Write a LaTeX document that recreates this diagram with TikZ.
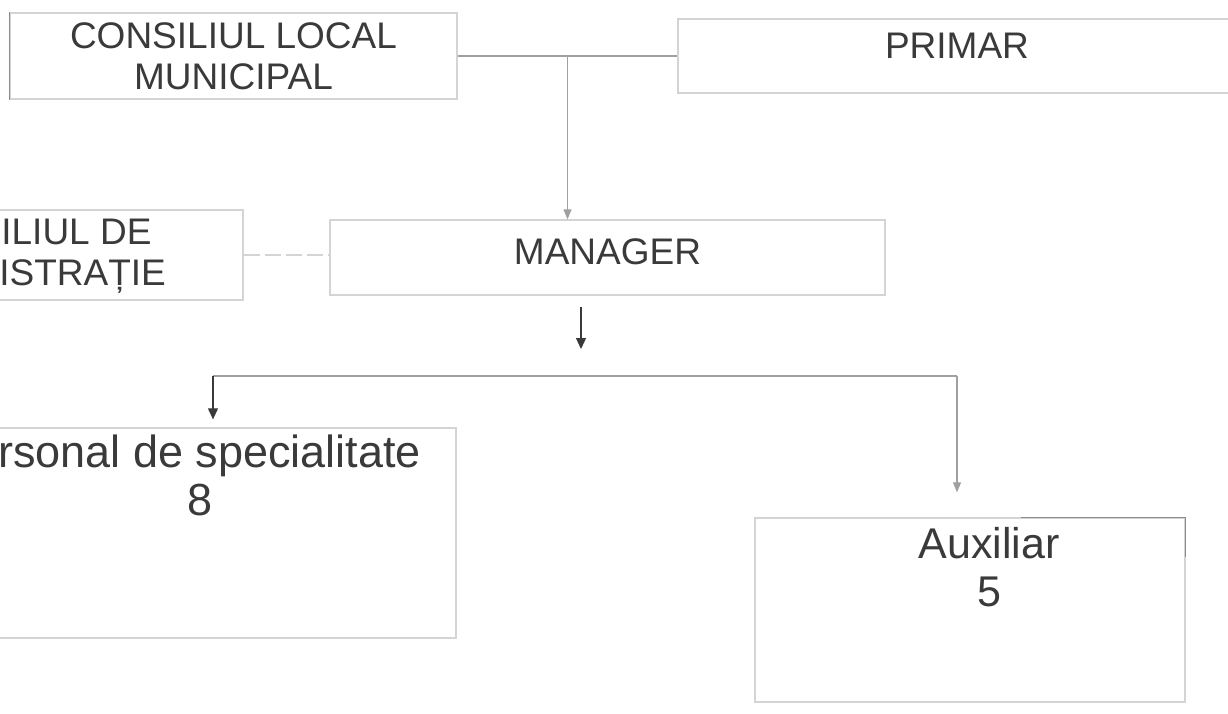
\documentclass[tikz,border=0pt]{standalone}
\usepackage{fontspec}
\usepackage{tikz}
\usetikzlibrary{calc}
\usetikzlibrary{positioning}
\usetikzlibrary{arrows.meta}
\setmainfont{Liberation Sans}
\definecolor{ink}{HTML}{3A3A3A}
\definecolor{frame}{HTML}{D4D4D4}
\definecolor{wire}{HTML}{A0A0A0}
\definecolor{edge}{HTML}{8C8C8C}

\begin{document}
\begin{tikzpicture}[x=1pt, y=-1pt,
  box/.style={draw=frame, line width=1.3pt, inner sep=0pt},
  caps/.style={font=\fontsize{37}{41}\selectfont, text=ink, align=center, inner sep=0pt},
  words/.style={font=\fontsize{45}{48}\selectfont, text=ink, align=center, inner sep=0pt},
  lightarr/.style={draw=wire, line width=1.1pt, -{Triangle[length=10pt,width=8pt]}},
  darkarr/.style={draw=ink, line width=1.1pt, -{Triangle[length=11pt,width=10pt]}}]

  \useasboundingbox (0,0) rectangle (1228,713);
  \clip (0,0) rectangle (1228,713);

  % Boxes
  \node[box, minimum width=447, minimum height=86] (clm) at (233.5,56) {};
  \node[box, minimum width=558, minimum height=74] (primar) at (957,56) {};
  \node[box, minimum width=448, minimum height=90] (admin) at (19,255) {};
  \node[box, minimum width=555, minimum height=75] (manager) at (607.5,257.5) {};
  \node[box, minimum width=532, minimum height=210] (pers) at (190,533) {};
  \node[box, minimum width=430, minimum height=184] (aux) at (970,610) {};

  % a few darker edges of the scan
  \draw[edge, line width=1pt] (clm.north west) -- (clm.south west);
  \draw[edge, line width=1pt] ([xshift=-165pt]aux.north east) -- (aux.north east) -- ([yshift=-40pt]aux.north east);

  % Labels
  \node[caps, below=10pt of clm.north] (clmtext) {CONSILIUL LOCAL\\MUNICIPAL};
  \node[caps, below=14pt of primar.north] (primartext) {PRIMAR};
  \node[caps, below=9pt of admin.north, xshift=4pt] (admintext) {CONSILIUL DE\\ADMINISTRAȚIE};
  \node[caps, below=19pt of manager.north] (managertext) {MANAGER};
  \node[words, below=7pt of pers.north, xshift=-8pt] (perstext) {Personal de specialitate\\\hspace*{36pt}8};
  \node[words, below=10pt of aux.north, xshift=19pt, font=\fontsize{43}{48}\selectfont] (auxtext) {Auxiliar\\5};

  % Connectors
  \coordinate (jonc) at ($(clm.east)!0.5!(primar.west)$);
  \draw[wire, line width=1.1pt] (clm.east) -- (primar.west);
  \draw[lightarr] (jonc) -- (jonc |- manager.north);
  \draw[frame, line width=1.3pt, dash pattern=on 16pt off 5pt] (admin.east) -- (admin.east -| manager.west);

  \coordinate (m1) at (581,307);
  \coordinate (m2) at (581,349);
  \draw[darkarr] (m1) -- (m2);

  \coordinate (bl) at (213,376);
  \coordinate (br) at (957,376);
  \draw[wire, line width=1.1pt] (bl) -- (br);
  \draw[darkarr, shorten >=8pt] (bl) -- (bl |- pers.north);
  \draw[lightarr, shorten >=25pt] (br) -- (br |- aux.north);

\end{tikzpicture}
\end{document}
